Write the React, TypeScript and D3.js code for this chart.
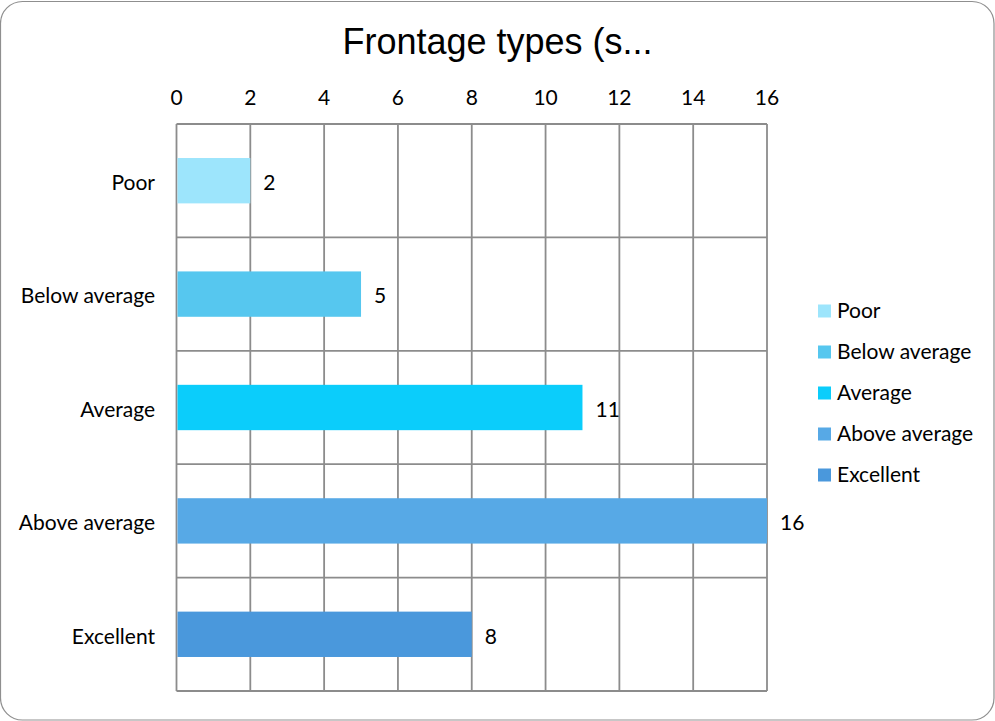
import * as d3 from 'd3'

const categories = ['Poor', 'Below average', 'Average', 'Above average', 'Excellent']
const counts = [2, 5, 11, 16, 8]
const colors = ['#9de5fc', '#56c7ef', '#0bcdfb', '#57a9e6', '#4a98dc']
const xTicks = [0, 2, 4, 6, 8, 10, 12, 14, 16]
const title = 'Frontage types (s...'

const width = 995
const height = 721
const margin = { top: 124, right: 228, bottom: 30, left: 176.5 }
const labelFont = "Lato, 'Open Sans', sans-serif"

export default function App() {
  const x = d3
    .scaleLinear()
    .domain([0, 16])
    .range([margin.left, width - margin.right])

  const y = d3
    .scaleBand<string>()
    .domain(categories)
    .range([margin.top, height - margin.bottom])
    .paddingInner(0.6)
    .paddingOuter(0.3)

  const step = y.step()
  const bounds = d3.range(categories.length + 1).map((i) => margin.top + i * step)

  // legend rows
  const legendY = d3
    .scalePoint<string>()
    .domain(categories)
    .range([311, 475])

  return (
    <svg
      width={width}
      height={height}
      style={{ position: 'absolute', left: 0, top: 0, background: '#fff' }}
    >
      <rect
        x={0.5}
        y={1.5}
        width={width - 1.5}
        height={height - 2.5}
        rx={22}
        fill="#fff"
        stroke="#8f8f8f"
        strokeWidth={1.2}
      />

      <text
        x={497.5}
        y={54}
        textAnchor="middle"
        fontFamily="'Liberation Sans', Arial, sans-serif"
        fontSize={36}
        fill="#000"
      >
        {title}
      </text>

      {/* vertical grid */}
      {xTicks.map((t) => (
        <line
          key={'gx' + t}
          x1={x(t)}
          x2={x(t)}
          y1={margin.top}
          y2={height - margin.bottom}
          stroke="#8c8c8c"
          strokeWidth={1.8}
        />
      ))}
      {/* horizontal category boundaries */}
      {bounds.map((b, i) => (
        <line
          key={'gy' + i}
          x1={margin.left}
          x2={width - margin.right}
          y1={b}
          y2={b}
          stroke="#8c8c8c"
          strokeWidth={1.8}
        />
      ))}

      {/* tick labels */}
      {xTicks.map((t) => (
        <text
          key={'tx' + t}
          x={x(t)}
          y={104.5}
          textAnchor="middle"
          fontFamily={labelFont}
          fontSize={21}
          fill="#000"
        >
          {t}
        </text>
      ))}

      {categories.map((c, i) => {
        const cy = (y(c) ?? 0) + y.bandwidth() / 2 + 2
        return (
          <g key={c}>
            <rect
              x={x(0) + 1}
              y={y(c)}
              width={x(counts[i]) - x(0) - 1}
              height={y.bandwidth()}
              fill={colors[i]}
            />
            <text
              x={155}
              y={cy}
              dy="0.35em"
              textAnchor="end"
              fontFamily={labelFont}
              fontSize={21}
              fill="#000"
            >
              {c}
            </text>
            <text
              x={x(counts[i]) + 13}
              y={cy}
              dy="0.35em"
              fontFamily={labelFont}
              fontSize={21}
              fill="#000"
            >
              {counts[i]}
            </text>
          </g>
        )
      })}

      {/* legend */}
      {categories.map((c, i) => (
        <g key={'lg' + c} transform={`translate(818,${legendY(c)})`}>
          <rect x={0} y={-6.5} width={13} height={13} fill={colors[i]} />
          <text x={19} y={0} dy="0.35em" fontFamily={labelFont} fontSize={21} fill="#000">
            {c}
          </text>
        </g>
      ))}
    </svg>
  )
}
